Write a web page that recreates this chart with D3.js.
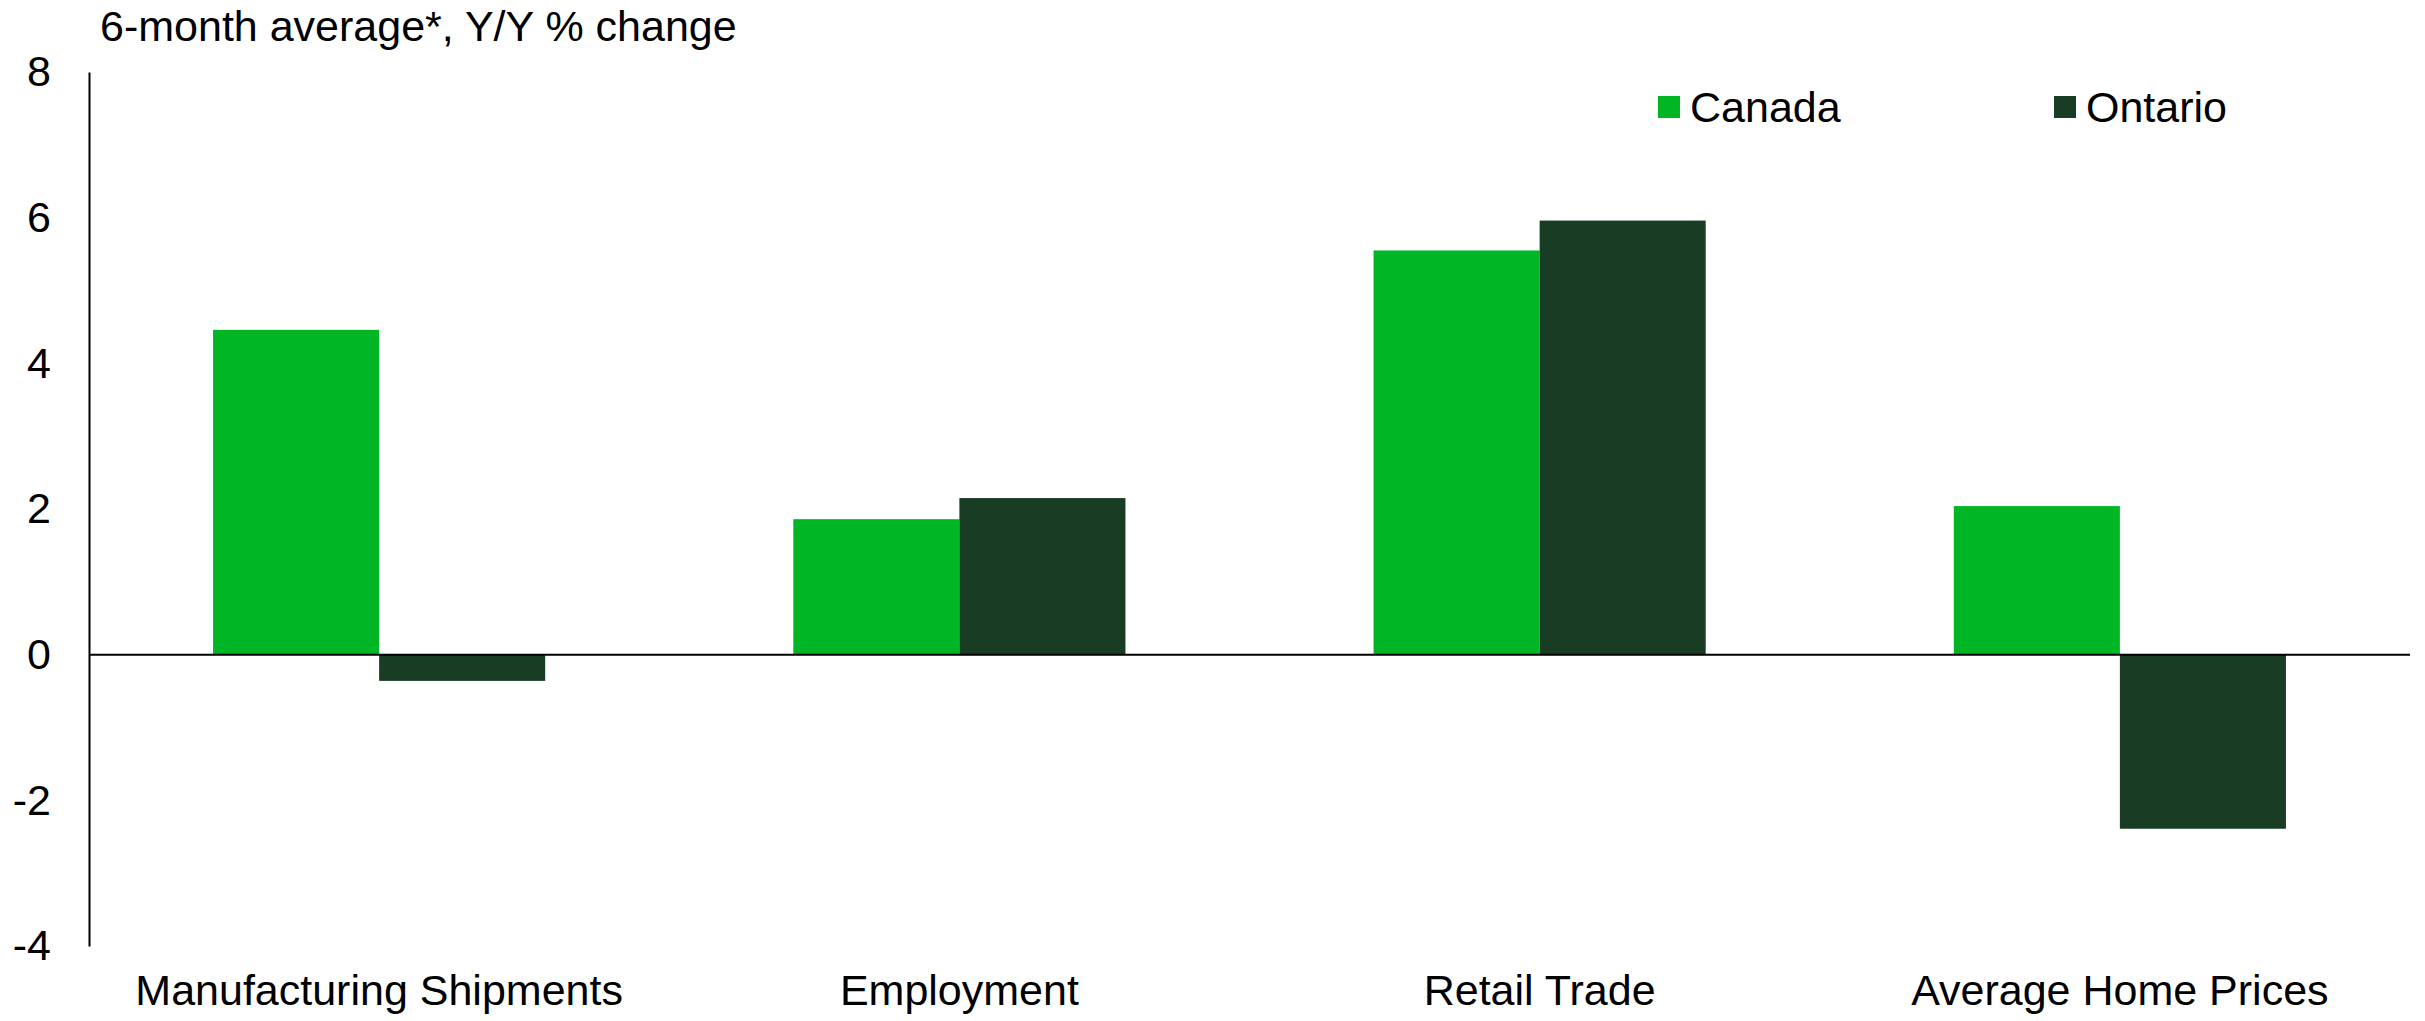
<!DOCTYPE html>
<html>
<head>
<meta charset="utf-8">
<script src="https://cdn.jsdelivr.net/npm/d3@7"></script>
<style>
  html, body { margin: 0; padding: 0; background: #fff; }
  svg { display: block; font-family: "Liberation Sans", Arial, sans-serif; }
</style>
</head>
<body>
<svg id="chart" width="2425" height="1021"></svg>
<script>
const categories = ["Manufacturing Shipments", "Employment", "Retail Trade", "Average Home Prices"];
const seriesNames = ["Canada", "Ontario"];
const canadaValues = [4.46, 1.86, 5.55, 2.04];
const ontarioValues = [-0.36, 2.15, 5.96, -2.39];
const seriesColors = ["#00B624", "#183D24"];
const yTicks = [-4, -2, 0, 2, 4, 6, 8];
const titleText = "6-month average*, Y/Y % change";

(function () {
const seriesValues = [canadaValues, ontarioValues];
const rows = categories.map((c, i) => ({ cat: c, vals: seriesNames.map((s, j) => ({ s, j, v: seriesValues[j][i] })) }));

const svg = d3.select("#chart");
const mLeft = 89, mRight = 2410, mTop = 72, mBottom = 946;
const FS = 43;

const x = d3.scaleBand().domain(categories).range([mLeft, mRight]).paddingInner(0).paddingOuter(0);
const xi = d3.scaleBand().domain(seriesNames).range([0, x.bandwidth()]).paddingInner(0).paddingOuter(0.747);
const y = d3.scaleLinear().domain([-4, 8]).range([mBottom, mTop]);

// bars
const g = svg.append("g");
g.selectAll("g.cat").data(rows).join("g")
  .attr("class", "cat")
  .attr("transform", d => `translate(${x(d.cat)},0)`)
  .selectAll("rect").data(d => d.vals).join("rect")
  .attr("x", d => xi(d.s))
  .attr("width", xi.bandwidth())
  .attr("y", d => y(Math.max(0, d.v)))
  .attr("height", d => Math.abs(y(d.v) - y(0)))
  .attr("fill", d => seriesColors[d.j]);

// zero line
svg.append("line")
  .attr("x1", mLeft).attr("x2", mRight)
  .attr("y1", y(0)).attr("y2", y(0))
  .attr("stroke", "#000").attr("stroke-width", 2);

// y axis
const yAxis = d3.axisLeft(y).tickValues(yTicks).tickSize(0).tickPadding(38).tickFormat(d => String(d));
const ya = svg.append("g").attr("transform", `translate(${mLeft},0)`).call(yAxis);
ya.select(".domain").attr("stroke", "#000").attr("stroke-width", 2);
ya.selectAll("text").attr("font-size", FS).attr("fill", "#000").attr("font-family", "Liberation Sans, Arial, sans-serif");

// x labels
svg.append("g").selectAll("text").data(categories).join("text")
  .attr("x", d => x(d) + x.bandwidth() / 2)
  .attr("y", 1005)
  .attr("text-anchor", "middle")
  .attr("font-size", FS)
  .attr("fill", "#000")
  .text(d => d);

// title
svg.append("text")
  .attr("x", 100).attr("y", 41)
  .attr("font-size", FS)
  .attr("fill", "#000")
  .text(titleText);

// legend
const legendX = [1658, 2054];
const lg = svg.append("g").selectAll("g").data(seriesNames).join("g")
  .attr("transform", (d, i) => `translate(${legendX[i]},96)`);
lg.append("rect").attr("width", 22).attr("height", 22).attr("fill", (d, i) => seriesColors[i]);
lg.append("text").attr("x", 32).attr("y", 26).attr("font-size", FS).attr("fill", "#000").text(d => d);
})();
</script>
</body>
</html>
